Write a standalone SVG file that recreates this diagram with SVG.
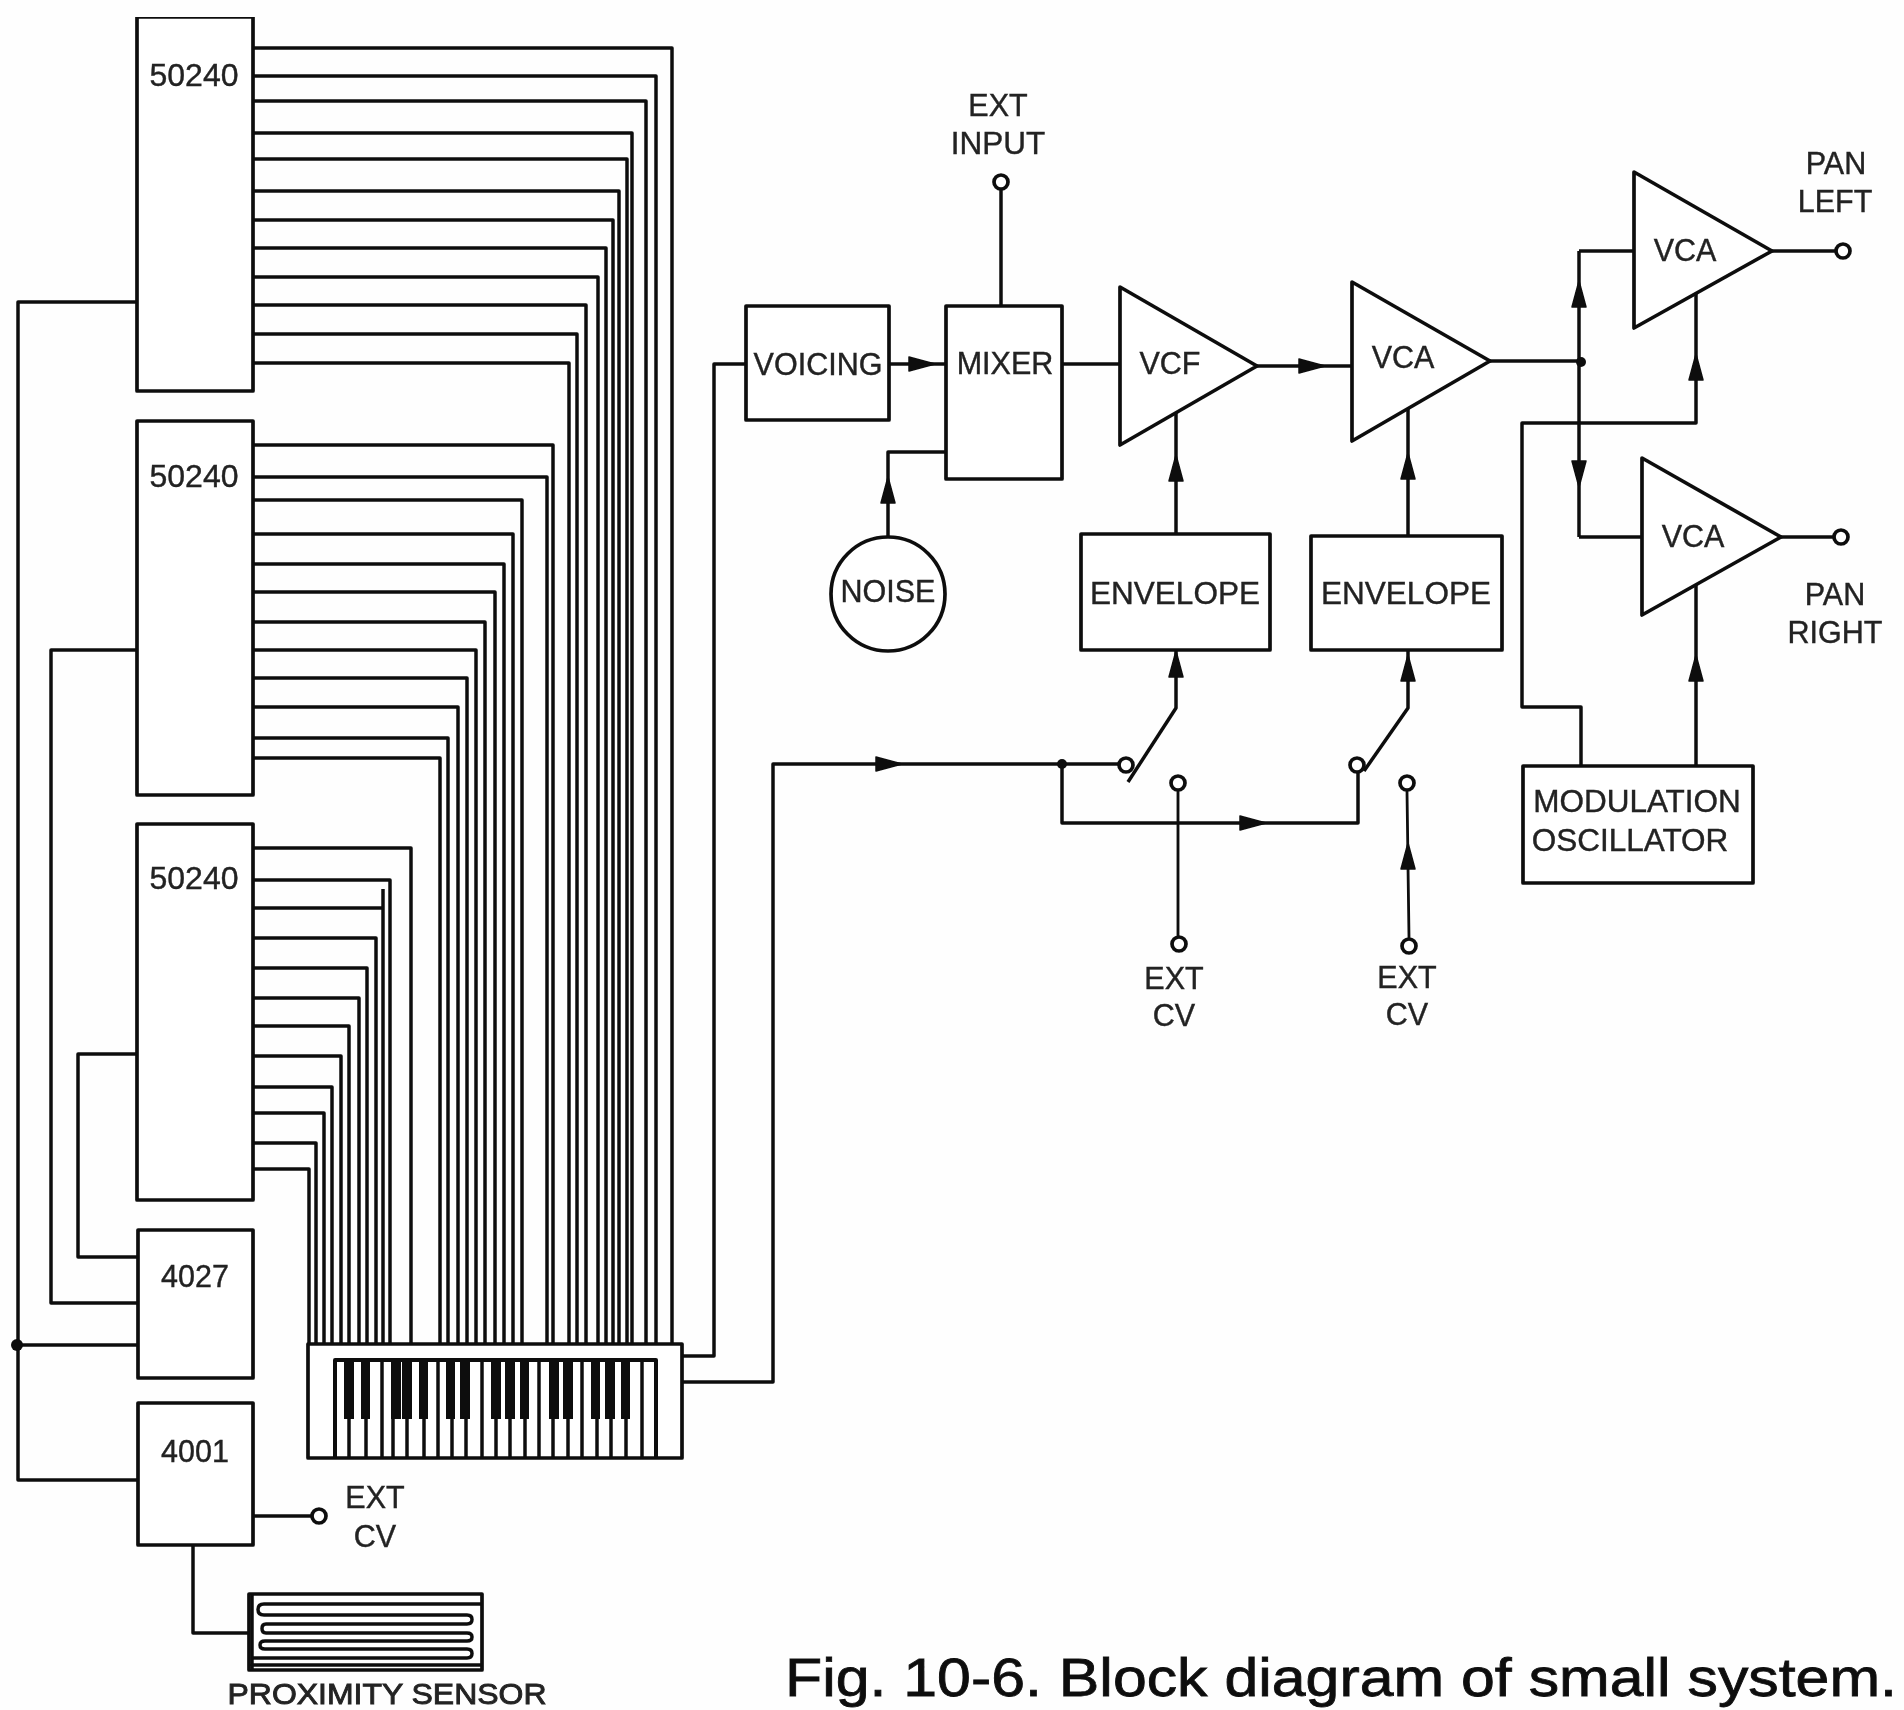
<svg xmlns="http://www.w3.org/2000/svg" width="1904" height="1710" viewBox="0 0 1904 1710">
<style>
.b{fill:#fff;stroke:#111;stroke-width:3.7;stroke-linejoin:round}
.w{fill:none;stroke:#111;stroke-width:3.5;stroke-linejoin:round}
.t{font-family:"Liberation Sans",Arial,sans-serif;font-size:30.5px;fill:#222;text-anchor:middle;stroke:#222;stroke-width:.4}
.l{font-size:31.5px}
.c{fill:#fff;stroke:#111;stroke-width:3.7}
.d{fill:#111}
.k{fill:#0a0a0a}
</style>
<defs>
<filter id="soft" x="0" y="0" width="100%" height="100%" filterUnits="objectBoundingBox"><feGaussianBlur stdDeviation="0.7"/></filter>
<path id="ah" d="M0 0L-26 -7L-26 7Z" fill="#111" stroke="#111" stroke-width="1.5" stroke-linejoin="round"/>
</defs>
<rect width="1904" height="1710" fill="#fefefe"/>
<g filter="url(#soft)">
<g id="connectors">
<path class="w" d="M253 48H672V1344M253 76H656V1344M253 101H646V1344M253 133H632V1344M253 159H627V1344M253 191H619V1344M253 220H613V1344M253 248H606V1344M253 277H598V1344M253 305H586V1344M253 334H577V1344M253 363H569V1344"/>
<path class="w" d="M253 445H553V1344M253 477H547V1344M253 500H522V1344M253 534H513V1344M253 564H504V1344M253 592H495V1344M253 622H485V1344M253 650H476V1344M253 678H467V1344M253 707H458V1344M253 738H448V1344M253 758H440V1344"/>
<path class="w" d="M253 848H411V1344M253 880H390V1344M253 908H383V889M383 908V1344M253 938H376V1344M253 968H367V1344M253 998H359V1344M253 1026H349V1344M253 1056H341V1344M253 1087H332V1344M253 1113H324V1344M253 1143H316V1344M253 1169H309V1344"/>
<path class="w" d="M137 302H18V1480H138M18 1345H138M137 650H51V1303H138M137 1054H78V1257H138"/>
<path class="w" d="M253 1516H312M193 1545V1633H249"/>
<path class="w" d="M683 1356H714V364H746M683 1382H773V764H1119"/>
<path class="w" d="M889 364H946M888 537V452H946M1001 189V306M1062 364H1120M1257 366H1352"/>
<path class="w" d="M1176 534V413M1408 536V408M1490 361H1581M1579 251V537M1579 251H1634M1579 537H1642M1772 251H1836M1781 537H1834"/>
<path class="w" d="M1581 766V707H1522V423H1696V293M1696 766V585"/>
<path class="w" d="M1062 764V823H1358V772M1128 782L1176 708V650M1364 771L1408 708V650"/>
<path class="w" style="stroke-width:2.8" d="M1178 790V937M1407 790L1409 939"/>
<use href="#ah" transform="translate(935 364)"/>
<use href="#ah" transform="translate(888 477) rotate(-90)"/>
<use href="#ah" transform="translate(1176 455) rotate(-90)"/>
<use href="#ah" transform="translate(1176 651) rotate(-90)"/>
<use href="#ah" transform="translate(1325 366)"/>
<use href="#ah" transform="translate(1408 453) rotate(-90)"/>
<use href="#ah" transform="translate(1408 655) rotate(-90)"/>
<use href="#ah" transform="translate(902 764)"/>
<use href="#ah" transform="translate(1266 823)"/>
<use href="#ah" transform="translate(1408 843) rotate(-90)"/>
<use href="#ah" transform="translate(1579 281) rotate(-90)"/>
<use href="#ah" transform="translate(1579 487) rotate(90)"/>
<use href="#ah" transform="translate(1696 354) rotate(-90)"/>
<use href="#ah" transform="translate(1696 655) rotate(-90)"/>
<circle class="d" cx="17" cy="1345" r="6"/>
<circle class="d" cx="1062" cy="764" r="5"/>
<circle class="d" cx="1581" cy="362" r="5"/>
</g>
<g id="chip1"><rect class="b" x="137" y="17" width="116" height="374"/><text class="t" style="font-size:32px" x="194" y="86">50240</text></g>
<g id="chip2"><rect class="b" x="137" y="421" width="116" height="374"/><text class="t" style="font-size:32px" x="194" y="487">50240</text></g>
<g id="chip3"><rect class="b" x="137" y="824" width="116" height="376"/><text class="t" style="font-size:32px" x="194" y="889">50240</text></g>
<g id="chip4027"><rect class="b" x="138" y="1230" width="115" height="148"/><text class="t" x="195" y="1287">4027</text></g>
<g id="chip4001"><rect class="b" x="138" y="1403" width="115" height="142"/><text class="t" x="195" y="1462">4001</text></g>
<g id="ext-cv-1"><circle class="c" cx="319" cy="1516" r="7"/><text class="t" x="375" y="1508">EXT</text><text class="t" x="375" y="1547">CV</text></g>
<g id="keyboard">
<rect class="b" x="308" y="1344" width="374" height="114"/>
<path class="w" style="stroke-width:4" d="M335 1458V1360H656V1458"/>
<path class="w" d="M349 1360V1458M366 1360V1458M382 1360V1458M393 1360V1458M407 1360V1458M424 1360V1458M438 1360V1458M452 1360V1458M466 1360V1458M482 1360V1458M496 1360V1458M510 1360V1458M525 1360V1458M539 1360V1458M553 1360V1458M568 1360V1458M582 1360V1458M597 1360V1458M611 1360V1458M626 1360V1458M642 1360V1458"/>
<path class="k" d="M344 1360h10v59h-10zM361 1360h9v59h-9zM391 1360h10v59h-10zM402 1360h10v59h-10zM419 1360h9v59h-9zM446 1360h9v59h-9zM460 1360h10v59h-10zM491 1360h10v59h-10zM505 1360h10v59h-10zM520 1360h9v59h-9zM549 1360h10v59h-10zM563 1360h10v59h-10zM591 1360h9v59h-9zM605 1360h10v59h-10zM621 1360h9v59h-9z"/>
</g>
<g id="proximity-sensor">
<rect class="b" x="249" y="1594" width="233" height="76"/>
<path class="w" d="M482 1604H264Q258 1604 258 1609.500Q258 1615 264 1615H467Q472 1615 472 1619.500Q472 1624 467 1624H266Q262 1624 262 1628.500Q262 1633 266 1633H467Q472 1633 472 1637Q472 1641 467 1641H265Q260 1641 260 1645Q260 1649 265 1649H467Q472 1649 472 1653.500Q472 1658 467 1658H252M252 1594V1670M249 1665H482"/>
<text class="t" x="387" y="1704" textLength="319" lengthAdjust="spacingAndGlyphs" style="stroke-width:.9;font-size:30px">PROXIMITY SENSOR</text>
</g>
<g id="voicing"><rect class="b" x="746" y="306" width="143" height="114"/><text class="t" x="818" y="375">VOICING</text></g>
<g id="mixer"><rect class="b" x="946" y="306" width="116" height="173"/><text class="t" x="1005" y="374">MIXER</text></g>
<g id="ext-input"><circle class="c" cx="1001" cy="182" r="7"/><text class="t" x="998" y="116">EXT</text><text class="t l" x="998" y="154">INPUT</text></g>
<g id="noise"><circle class="b" cx="888" cy="594" r="57"/><text class="t" x="888" y="602">NOISE</text></g>
<g id="vcf"><path class="b" d="M1120 287L1257 366L1120 445Z"/><text class="t" x="1170" y="374">VCF</text></g>
<g id="vca1"><path class="b" d="M1352 282L1490 361L1352 441Z"/><text class="t" x="1403" y="368">VCA</text></g>
<g id="vca2"><path class="b" d="M1634 172L1772 251L1634 328Z"/><text class="t" x="1685" y="261">VCA</text></g>
<g id="vca3"><path class="b" d="M1642 458L1781 537L1642 615Z"/><text class="t" x="1693" y="547">VCA</text></g>
<g id="envelope1"><rect class="b" x="1081" y="534" width="189" height="116"/><text class="t l" x="1175" y="604">ENVELOPE</text></g>
<g id="envelope2"><rect class="b" x="1311" y="536" width="191" height="114"/><text class="t l" x="1406" y="604">ENVELOPE</text></g>
<g id="modulation-oscillator"><rect class="b" x="1523" y="766" width="230" height="117"/><text class="t l" x="1637" y="812">MODULATION</text><text class="t l" x="1630" y="851">OSCILLATOR</text></g>
<g id="pan-left"><circle class="c" cx="1843" cy="251" r="7"/><text class="t" x="1836" y="174">PAN</text><text class="t" x="1835" y="212">LEFT</text></g>
<g id="pan-right"><circle class="c" cx="1841" cy="537" r="7"/><text class="t" x="1835" y="605">PAN</text><text class="t" x="1835" y="643">RIGHT</text></g>
<g id="switch1"><circle class="c" cx="1126" cy="765" r="7"/><circle class="c" cx="1178" cy="783" r="7"/></g>
<g id="switch2"><circle class="c" cx="1357" cy="765" r="7"/><circle class="c" cx="1407" cy="783" r="7"/></g>
<g id="ext-cv-2"><circle class="c" cx="1179" cy="944" r="7"/><text class="t" x="1174" y="989">EXT</text><text class="t" x="1174" y="1026">CV</text></g>
<g id="ext-cv-3"><circle class="c" cx="1409" cy="946" r="7"/><text class="t" x="1407" y="988">EXT</text><text class="t" x="1407" y="1025">CV</text></g>
<text id="caption" x="1341" y="1696" font-family="'Liberation Sans',Arial,sans-serif" font-size="54" text-anchor="middle" fill="#111" stroke="#111" stroke-width=".8" textLength="1112" lengthAdjust="spacingAndGlyphs">Fig. 10-6. Block diagram of small system.</text>
</g>
</svg>
